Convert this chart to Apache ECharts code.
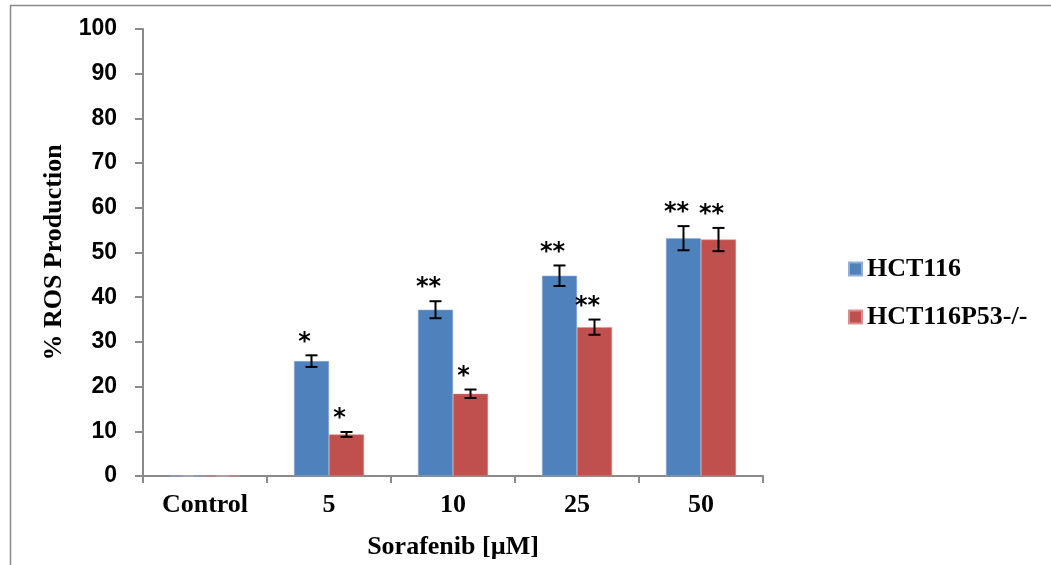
<!DOCTYPE html>
<html>
<head>
<meta charset="UTF-8">
<title>% ROS Production</title>
<script src="https://cdn.jsdelivr.net/npm/echarts@6/dist/echarts.min.js"></script>
<style>
  html, body { margin: 0; padding: 0; background: #fff; }
  #container { width: 1051px; height: 565px; }
</style>
</head>
<body>
<div id="container"></div>
<script>
// data
var categories = ['Control', '5', '10', '25', '50'];
var seriesNames = ['HCT116', 'HCT116P53-/-'];
var hct116 = [0, 25.7, 37.2, 44.8, 53.2];
var hct116Err = [0, 1.3, 1.9, 2.3, 2.7];
var hct116Sig = ['', '*', '**', '**', '**'];
var p53 = [0, 9.3, 18.4, 33.3, 52.9];
var p53Err = [0, 0.55, 0.95, 1.7, 2.6];
var p53Sig = ['', '*', '*', '**', '**'];
var yTicks = [0, 10, 20, 30, 40, 50, 60, 70, 80, 90, 100];

var dom = document.getElementById('container');
var myChart = echarts.init(dom);

var BAR_W = 35;
var serif = '"Liberation Serif", "Times New Roman", serif';

// error bar + asterisk drawn on top of each bar
function errorSeries(values, errs, sigs, side) {
  var data = values.map(function (v, i) { return [i, v, errs[i], sigs[i]]; });
  return {
    type: 'custom',
    name: 'err' + side,
    data: data,
    z: 10,
    silent: true,
    renderItem: function (params, api) {
      var i = api.value(0);
      var v = api.value(1);
      var e = api.value(2);
      var sig = data[params.dataIndex][3];
      var hi = api.coord([i, v + e]);
      var lo = api.coord([i, v - e]);
      var x = hi[0] + side * BAR_W / 2;
      var cap = 6;
      var style = { stroke: '#000', lineWidth: 2 };
      if (v === 0) {
        style = { stroke: '#aaa', lineWidth: 1 };
      }
      var kids = [
        { type: 'line', shape: { x1: x, y1: hi[1], x2: x, y2: lo[1] }, style: style },
        { type: 'line', shape: { x1: x - cap, y1: hi[1], x2: x + cap, y2: hi[1] }, style: style },
        { type: 'line', shape: { x1: x - cap, y1: lo[1], x2: x + cap, y2: lo[1] }, style: style }
      ];
      if (sig) {
        kids.push({
          type: 'text',
          style: {
            x: x - 7, y: hi[1] - 13,
            text: sig,
            fill: '#000',
            font: 'bold 24px "DejaVu Sans", sans-serif',
            textAlign: 'center',
            textVerticalAlign: 'middle'
          }
        });
      }
      return { type: 'group', children: kids };
    }
  };
}

var option = {
  animation: false,
  backgroundColor: '#fff',
  graphic: [{
    type: 'rect',
    shape: { x: 10.5, y: 5.5, width: 1100, height: 700 },
    style: { fill: 'none', stroke: '#8a8a8a', lineWidth: 1.5 },
    silent: true
  }],
  grid: { left: 143, right: 288, top: 29, bottom: 89, containLabel: false, outerBoundsMode: 'none' },
  legend: {
    data: seriesNames,
    orient: 'vertical',
    left: 843,
    top: 249,
    itemWidth: 13,
    itemHeight: 13,
    itemGap: 18,
    icon: 'rect',
    textStyle: { fontFamily: serif, fontWeight: 'bold', fontSize: 26, color: '#000', lineHeight: 30 }
  },
  xAxis: {
    type: 'category',
    data: categories,
    name: 'Sorafenib [µM]',
    nameLocation: 'middle',
    nameGap: 58,
    nameTextStyle: { fontFamily: serif, fontWeight: 'bold', fontSize: 26, color: '#000' },
    axisLine: { lineStyle: { color: '#8a8a8a', width: 2 } },
    axisTick: { show: true, length: 7, lineStyle: { color: '#8a8a8a', width: 2 } },
    axisLabel: { fontFamily: serif, fontWeight: 'bold', fontSize: 26, color: '#000', margin: 16 }
  },
  yAxis: {
    type: 'value',
    min: yTicks[0],
    max: yTicks[yTicks.length - 1],
    interval: 10,
    name: '% ROS Production',
    nameLocation: 'middle',
    nameRotate: 90,
    nameGap: 74,
    nameTextStyle: { fontFamily: serif, fontWeight: 'bold', fontSize: 26, color: '#000' },
    axisLine: { show: true, lineStyle: { color: '#8a8a8a', width: 2 } },
    axisTick: { show: true, length: 8, lineStyle: { color: '#8a8a8a', width: 2 } },
    splitLine: { show: false },
    axisLabel: { fontFamily: '"Liberation Sans", Arial, sans-serif', fontWeight: 'bold', fontSize: 23, color: '#000', margin: 26 }
  },
  series: [
    {
      name: seriesNames[0],
      type: 'bar',
      data: hct116,
      barWidth: BAR_W,
      barGap: '0%',
      itemStyle: { color: '#4F81BD', borderColor: '#8fb0d8', borderWidth: 0.5 }
    },
    {
      name: seriesNames[1],
      type: 'bar',
      data: p53,
      barWidth: BAR_W,
      barGap: '0%',
      itemStyle: { color: '#C0504D', borderColor: '#d98f8d', borderWidth: 0.5 }
    },
    errorSeries(hct116, hct116Err, hct116Sig, -1),
    errorSeries(p53, p53Err, p53Sig, 1)
  ]
};

myChart.setOption(option, true);
</script>
</body>
</html>
